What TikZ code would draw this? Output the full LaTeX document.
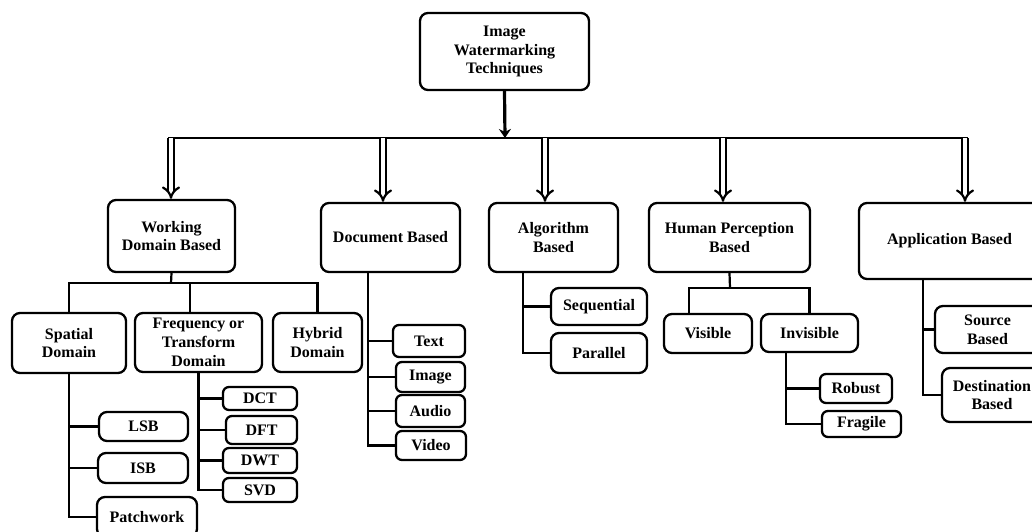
\documentclass[tikz,border=0pt]{standalone}
\usepackage{fontspec}
\setmainfont{Liberation Serif}
\usetikzlibrary{arrows.meta}

\begin{document}
\begin{tikzpicture}[x=1pt, y=-1pt, >=Stealth,
    box/.style={draw, line width=2.3pt, rounded corners=8pt, align=center, inner sep=0pt,
      font=\bfseries\fontsize{16}{18.8}\selectfont},
    sz/.style 2 args={minimum width=#1pt, minimum height=#2pt},
    ln/.style={line width=2.2pt},
    dbl/.style={double, double distance=3.8pt, line width=2.2pt, -{Implies}}]
  \useasboundingbox (0,0) rectangle (1032,532);
  \clip (0,0) rectangle (1032,532);
  % ---------------- top
  \node[box, sz={169}{77}] (root) at (504.5,51.5) {Image\\Watermarking\\Techniques};
  \coordinate (bus) at (505,138);
  \draw[ln, line width=3.2pt, -{Stealth[length=9pt, width=12pt]}] (root.south) -- (bus);
  \draw[ln] (168,138) -- (968,138);
  % ---------------- first level
  \node[box, sz={127}{72}] (wdb) at (171.5,236) {Working\\Domain Based};
  \node[box, sz={139}{69}] (doc) at (390.5,237.5) {Document Based};
  \node[box, sz={129}{69}] (alg) at (553.5,237.5) {Algorithm\\Based};
  \node[box, sz={161}{69}] (hum) at (729.5,237.5) {Human Perception\\Based};
  \node[box, sz={181}{76}] (app) at (949.5,241) {Application Based};
  \coordinate (twdb) at (171,138);
  \coordinate (tdoc) at (383,138);
  \coordinate (talg) at (545,138);
  \coordinate (thum) at (723,138);
  \coordinate (tapp) at (965,138);
  \foreach \t/\b in {twdb/wdb, tdoc/doc, talg/alg, thum/hum, tapp/app}
    \draw[dbl] (\t) -- (\t |- \b.north);
  % ---------------- working domain
  \node[box, sz={114}{60}] (spatial) at (69,343) {Spatial\\Domain};
  \node[box, sz={127}{59}] (freq) at (198.5,342.5) {Frequency or\\Transform\\Domain};
  \node[box, sz={89}{59}] (hybrid) at (317.5,342.5) {Hybrid\\Domain};
  \coordinate (wbar) at (171,283);
  \draw[ln] (wdb.south) -- (wbar);
  \draw[ln] (spatial.north) -- (spatial.north |- wbar) -- (hybrid.north |- wbar) -- (hybrid.north);
  \draw[ln] ([xshift=-8.5pt]freq.north) -- ([xshift=-8.5pt]freq.north |- wbar);
  \node[box, sz={89}{29}] (lsb) at (143.5,426.5) {LSB};
  \node[box, sz={90}{30}] (isb) at (143,468) {ISB};
  \node[box, sz={100}{40}] (patch) at (147,517) {Patchwork};
  \draw[ln] (spatial.south) |- (patch.west);
  \foreach \c in {lsb, isb}
    \draw[ln] (spatial.south |- \c.west) -- (\c.west);
  \node[box, sz={74}{23}, rounded corners=6pt] (dct) at (260,398.5) {DCT};
  \node[box, sz={71}{28}, rounded corners=6pt] (dft) at (261.5,430) {DFT};
  \node[box, sz={74}{25}, rounded corners=6pt] (dwt) at (260,460.5) {DWT};
  \node[box, sz={74}{24}, rounded corners=6pt] (svd) at (260,490) {SVD};
  \draw[ln] (freq.south) |- (svd.west);
  \foreach \c in {dct, dft, dwt}
    \draw[ln] (freq.south |- \c.west) -- (\c.west);
  % ---------------- document based
  \node[box, sz={72}{32}, rounded corners=6pt] (text) at (429,341) {Text};
  \node[box, sz={69}{30}, rounded corners=6pt] (image) at (430.5,377) {Image};
  \node[box, sz={69}{32}, rounded corners=6pt] (audio) at (430.5,411) {Audio};
  \node[box, sz={70}{29}, rounded corners=6pt] (video) at (431,445.5) {Video};
  \coordinate (dstem) at ([xshift=-22.5pt]doc.south);
  \draw[ln] (dstem) |- (video.west);
  \foreach \c in {text, image, audio}
    \draw[ln] (dstem |- \c.west) -- (\c.west);
  % ---------------- algorithm based
  \node[box, sz={96}{37}] (seq) at (599,306.5) {Sequential};
  \node[box, sz={96}{40}] (par) at (599,353) {Parallel};
  \coordinate (astem) at ([xshift=-30.5pt]alg.south);
  \draw[ln] (astem) |- (par.west);
  \draw[ln] (astem |- seq.west) -- (seq.west);
  % ---------------- human perception based
  \node[box, sz={88}{39}] (vis) at (708,333.5) {Visible};
  \node[box, sz={97}{38}] (inv) at (809.5,333) {Invisible};
  \coordinate (hbar) at (730,288);
  \draw[ln] (hum.south) -- (hbar);
  \draw[ln] ([xshift=-19pt]vis.north) -- ([xshift=-19pt]vis.north |- hbar) -- (inv.north |- hbar) -- (inv.north);
  \node[box, sz={72}{29}, rounded corners=6pt] (rob) at (856,388.5) {Robust};
  \node[box, sz={79}{26}, rounded corners=6pt] (frag) at (861.5,424) {Fragile};
  \coordinate (istem) at ([xshift=-23.5pt]inv.south);
  \draw[ln] (istem) |- (frag.west);
  \draw[ln] (istem |- rob.west) -- (rob.west);
  % ---------------- application based
  \node[box, sz={105}{47}] (src) at (987.5,329.5) {Source\\Based};
  \node[box, sz={100}{54}] (dest) at (992,395) {Destination\\Based};
  \coordinate (pstem) at ([xshift=-26.5pt]app.south);
  \draw[ln] (pstem) |- (dest.west);
  \draw[ln] (pstem |- src.west) -- (src.west);
\end{tikzpicture}
\end{document}
